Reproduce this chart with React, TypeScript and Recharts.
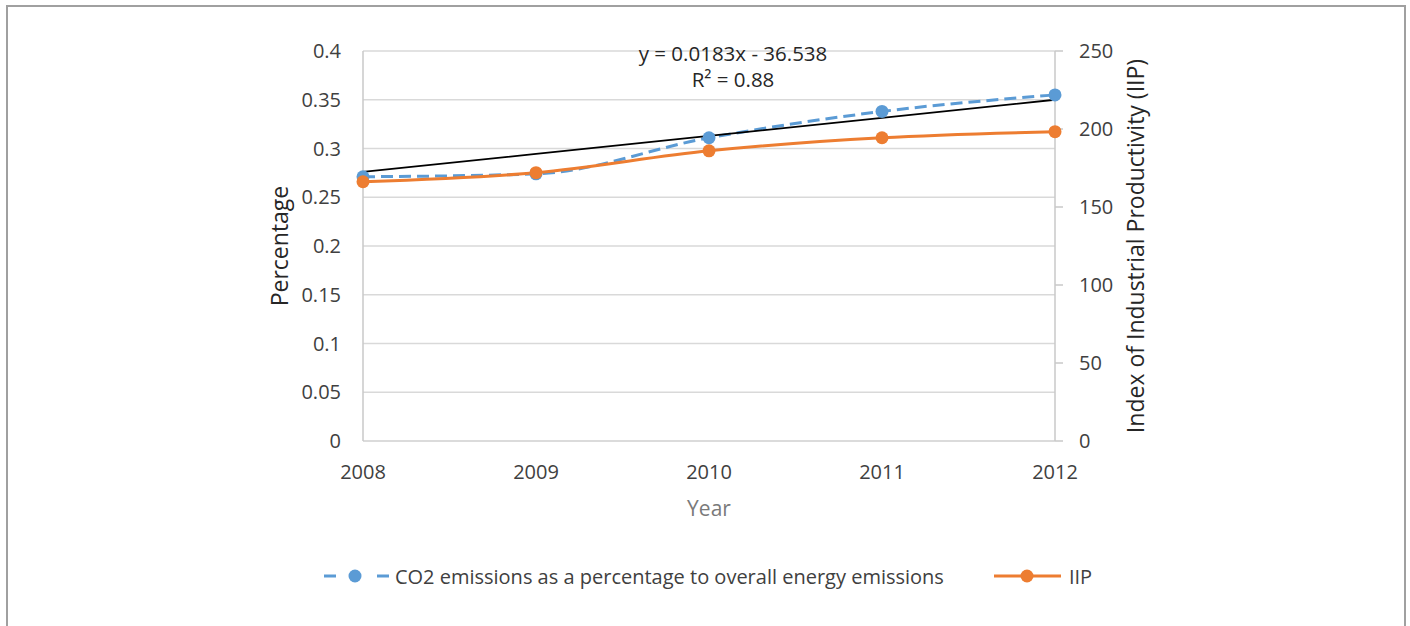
import { LineChart, Line, XAxis, YAxis, CartesianGrid, Legend } from "recharts";

const years = ["2008", "2009", "2010", "2011", "2012"];
const co2Share = [0.271, 0.274, 0.311, 0.338, 0.355];
const iipValues = [166.2, 172, 186, 194.4, 198.3];
const trendValues = [0.276, 0.2945, 0.313, 0.3315, 0.35];

const leftTicks = [0, 0.05, 0.1, 0.15, 0.2, 0.25, 0.3, 0.35, 0.4];
const rightTicks = [0, 50, 100, 150, 200, 250];

const co2Name = "CO2 emissions as a percentage to overall energy emissions";
const iipName = "IIP";
const trendEquation = "y = 0.0183x - 36.538";
const trendR2 = "R² = 0.88";

const BLUE = "#5B9BD5";
const ORANGE = "#ED7D31";
const FONT = "'Open Sans', sans-serif";

const data = years.map((year, i) => ({
  year,
  co2: co2Share[i],
  iip: iipValues[i],
  trend: trendValues[i],
}));

function LegendContent() {
  return (
    <div
      style={{
        height: 40,
        display: "flex",
        justifyContent: "center",
        alignItems: "center",
        fontFamily: FONT,
        fontSize: 20,
        color: "#404040",
        paddingLeft: 6,
      }}
    >
      <svg width={65} height={20}>
        <line x1={0} y1={10} x2={12} y2={10} stroke={BLUE} strokeWidth={3} />
        <circle cx={31} cy={10} r={6.5} fill={BLUE} />
        <line x1={53} y1={10} x2={65} y2={10} stroke={BLUE} strokeWidth={3} />
      </svg>
      <span style={{ marginLeft: 6 }}>{co2Name}</span>
      <svg width={67} height={20} style={{ marginLeft: 50 }}>
        <line x1={0} y1={10} x2={67} y2={10} stroke={ORANGE} strokeWidth={3} />
        <circle cx={33} cy={10} r={6.5} fill={ORANGE} />
      </svg>
      <span style={{ marginLeft: 8 }}>{iipName}</span>
    </div>
  );
}

export default function App() {
  const tickStyle = { fill: "#404040", fontSize: 20, fontFamily: FONT };
  return (
    <div
      style={{
        position: "absolute",
        left: 0,
        top: 0,
        width: 1410,
        height: 626,
        overflow: "hidden",
        background: "white",
      }}
    >
      <div
        style={{
          position: "absolute",
          left: 6,
          top: 5,
          width: 1396,
          height: 660,
          border: "2px solid #a0a0a0",
        }}
      />
      <LineChart
        width={1410}
        height={626}
        data={data}
        margin={{ top: 51, right: 0, bottom: 30, left: 0 }}
        style={{ position: "absolute", left: 0, top: 0 }}
      >
        <CartesianGrid yAxisId="left" vertical={false} stroke="#d9d9d9" strokeWidth={1.5} />
        <XAxis
          dataKey="year"
          height={115}
          axisLine={{ stroke: "#d9d9d9", strokeWidth: 1.5 }}
          tickLine={false}
          tickSize={0}
          tickMargin={24}
          tick={tickStyle}
          interval={0}
          label={{
            value: "Year",
            position: "insideTop",
            offset: 60,
            style: { fill: "#7a7a7a", fontSize: 21, fontFamily: FONT },
          }}
        />
        <YAxis
          yAxisId="left"
          width={363}
          domain={[0, 0.4]}
          ticks={leftTicks}
          axisLine={{ stroke: "#c8c8c8", strokeWidth: 1.5 }}
          tickLine={false}
          tickSize={0}
          tickMargin={22}
          tick={tickStyle}
          label={{
            value: "Percentage",
            angle: -90,
            position: "insideLeft",
            offset: 280,
            style: { textAnchor: "middle", fill: "#262626", fontSize: 23, fontFamily: FONT },
          }}
        />
        <YAxis
          yAxisId="right"
          orientation="right"
          width={355}
          domain={[0, 250]}
          ticks={rightTicks}
          axisLine={{ stroke: "#c8c8c8", strokeWidth: 1.5 }}
          tickLine={{ stroke: "#c8c8c8", strokeWidth: 1.5 }}
          tickSize={8}
          tickMargin={16}
          tick={tickStyle}
          label={{
            value: "Index of Industrial Productivity (IIP)",
            angle: -90,
            position: "insideRight",
            offset: 274,
            style: { textAnchor: "middle", fill: "#262626", fontSize: 23, fontFamily: FONT },
          }}
        />
        <Legend verticalAlign="bottom" content={<LegendContent />} />
        <Line
          yAxisId="left"
          type="monotone"
          dataKey="co2"
          name={co2Name}
          stroke={BLUE}
          strokeWidth={3}
          strokeDasharray="12 6"
          dot={{ r: 6.5, fill: BLUE, stroke: "none" }}
          activeDot={false}
          isAnimationActive={false}
        />
        <Line
          yAxisId="right"
          type="monotone"
          dataKey="iip"
          name={iipName}
          stroke={ORANGE}
          strokeWidth={3}
          dot={{ r: 6.5, fill: ORANGE, stroke: "none" }}
          activeDot={false}
          isAnimationActive={false}
        />
        <Line
          yAxisId="left"
          type="linear"
          dataKey="trend"
          stroke="#000000"
          strokeWidth={1.8}
          dot={false}
          activeDot={false}
          legendType="none"
          isAnimationActive={false}
        />
      </LineChart>
      <div
        style={{
          position: "absolute",
          left: 583,
          top: 40,
          width: 300,
          textAlign: "center",
          fontFamily: FONT,
          fontSize: 20.5,
          lineHeight: "26px",
          color: "#262626",
        }}
      >
        <div>{trendEquation}</div>
        <div>{trendR2}</div>
      </div>
    </div>
  );
}
